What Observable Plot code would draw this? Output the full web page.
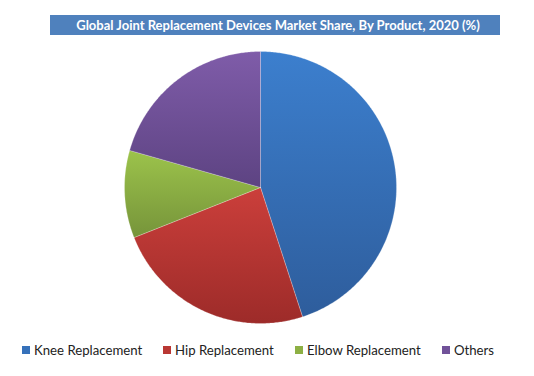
<!DOCTYPE html>
<html>
<head>
<meta charset="utf-8">
<script src="https://cdn.jsdelivr.net/npm/d3@7"></script>
<script src="https://cdn.jsdelivr.net/npm/@observablehq/plot@0.6"></script>
<style>
  html, body { margin: 0; padding: 0; background: #fff; }
  #wrap { position: relative; width: 534px; height: 376px; overflow: hidden; font-family: Lato, "Open Sans", sans-serif; }
  #title { position: absolute; left: 50px; top: 15px; width: 450px; height: 20px; background: #4f81bd; color: #fff;
    font-weight: bold; font-size: 13px; line-height: 20px; text-align: center; padding-left: 6px; box-sizing: border-box; white-space: nowrap; }
  #chart { position: absolute; left: 0; top: 0; }
  #legend { position: absolute; left: 0; top: 341px; width: 534px; height: 18px; font-size: 13.2px; color: #222; }
  .item { position: absolute; top: 0; line-height: 18px; white-space: nowrap; }
  .sw { position: absolute; top: 5px; width: 8px; height: 8px; }
</style>
</head>
<body>
<div id="wrap">
  <div id="chart"></div>
  <div id="title">Global Joint Replacement Devices Market Share, By Product, 2020 (%)</div>
  <div id="legend"></div>
</div>
<script>
const categories = ["Knee Replacement", "Hip Replacement", "Elbow Replacement", "Others"];
const shares = [45, 24, 10.4, 20.6];
const colorsTop = ["#3c7fce", "#cb3f3b", "#9cc34b", "#7f5ca9"];
const colorsBottom = ["#2e5d9c", "#9d2b29", "#76943a", "#5d4382"];
const legendX = [22, 163, 295, 442];

// Build slice polygons from data via d3.pie (angles measured clockwise from top)
const arcs = d3.pie().sort(null).value(d => d.share)(categories.map((c, i) => ({category: c, share: shares[i], i})));
const pts = [];
for (const a of arcs) {
  const n = Math.max(2, Math.ceil((a.endAngle - a.startAngle) / 0.01));
  pts.push({category: a.data.category, i: a.data.i, x: 0, y: 0});
  for (let k = 0; k <= n; k++) {
    const t = a.startAngle + (a.endAngle - a.startAngle) * k / n;
    pts.push({category: a.data.category, i: a.data.i, x: Math.sin(t), y: Math.cos(t)});
  }
  pts.push({category: a.data.category, i: a.data.i, x: 0, y: 0});
}

const plot = Plot.plot({
  width: 534,
  height: 376,
  margin: 0,
  x: {domain: [-1, 1], range: [124, 396], axis: null},
  y: {domain: [-1, 1], range: [323, 51], axis: null},
  marks: [
    Plot.line(pts, {
      x: "x", y: "y", z: "category",
      fill: d => `url(#grad${d.i})`,
      stroke: "#ffffff", strokeWidth: 0.4, strokeOpacity: 0.6,
      curve: "linear-closed"
    })
  ]
});

// gradients
const svg = d3.select(plot);
const defs = svg.insert("defs", ":first-child");
categories.forEach((c, i) => {
  const g = defs.append("linearGradient").attr("id", `grad${i}`).attr("x1", 0).attr("y1", 0).attr("x2", 0).attr("y2", 1);
  g.append("stop").attr("offset", "0%").attr("stop-color", colorsTop[i]);
  g.append("stop").attr("offset", "100%").attr("stop-color", colorsBottom[i]);
});
document.getElementById("chart").appendChild(plot);

// legend
const leg = d3.select("#legend");
categories.forEach((c, i) => {
  const it = leg.append("div").attr("class", "item").style("left", legendX[i] + "px");
  it.append("div").attr("class", "sw").style("left", "0px").style("background", d3.interpolateRgb(colorsTop[i], colorsBottom[i])(0.4));
  it.append("span").style("margin-left", "12px").text(c);
});
</script>
</body>
</html>
